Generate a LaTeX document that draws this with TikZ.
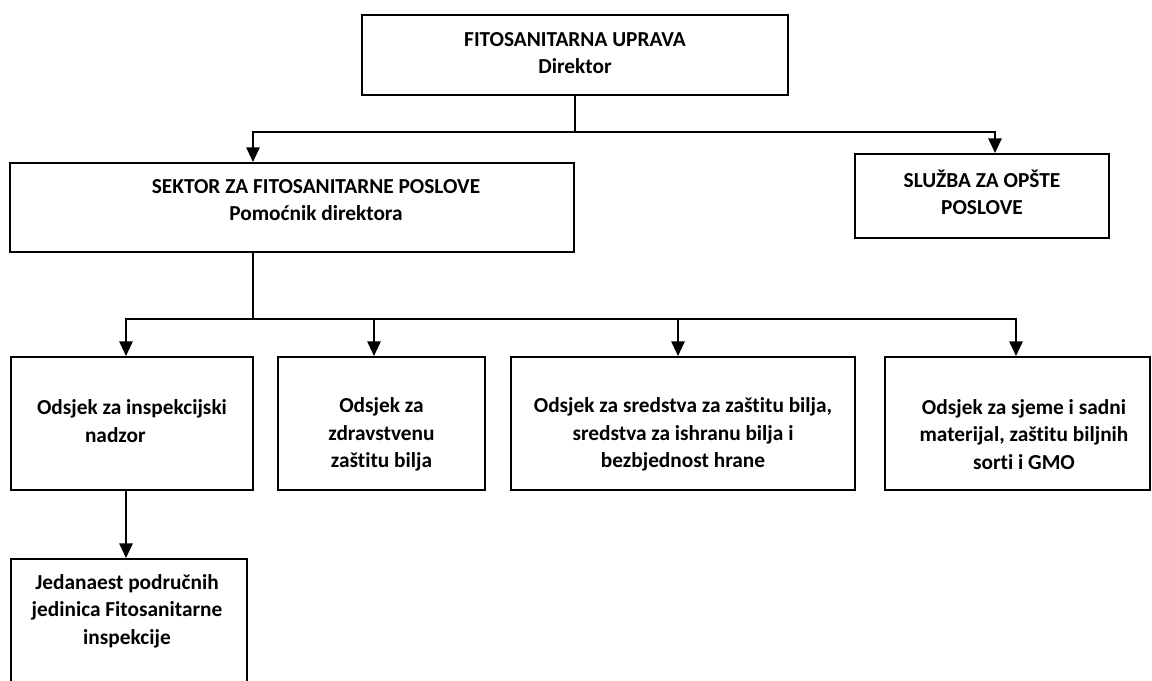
\documentclass[tikz,border=0pt]{standalone}
\usepackage{fontspec}
\setmainfont{Carlito}[Ligatures=NoCommon]
\usetikzlibrary{positioning,arrows.meta}

\begin{document}
\begin{tikzpicture}[x=0.75pt, y=-0.75pt, font=\bfseries\fontsize{16}{20.5}\selectfont, b/.style={draw, line width=1.5pt, inner sep=0pt}, t/.style={align=center, inner sep=0pt}, s/.style={line width=1.4pt}, a/.style={s, -{Triangle[length=11pt, width=10pt]}}]
		\useasboundingbox (0,0) rectangle (1152,681);
		\node[b, minimum width=319.5pt, minimum height=60pt] (uprava) at (575,55) {};
		\node[t] (uprava_label) at (575,53) {FITOSANITARNA UPRAVA\\Direktor};
		\node[b, minimum width=423pt, minimum height=66.75pt] (sektor) at (292,207.5) {};
		\node[t] (sektor_label) at (316,200) {SEKTOR ZA FITOSANITARNE POSLOVE\\Pomoćnik direktora};
		\node[b, minimum width=190.5pt, minimum height=63pt] (sluzba) at (982,196) {};
		\node[t] (sluzba_label) at (982,192.5) {SLUŽBA ZA OPŠTE\\POSLOVE};
		\node[b, minimum width=181.5pt, minimum height=99.75pt] (o1) at (132,423.5) {};
		\node[t] (o1_label) at (132,421) {Odsjek za inspekcijski\\nadzor\hspace*{25pt}};
		\node[b, minimum width=155.25pt, minimum height=99.75pt] (o2) at (381.5,423.5) {};
		\node[t] (o2_label) at (381.5,434.5) {Odsjek za\\zdravstvenu\\zaštitu bilja};
		\node[b, minimum width=258pt, minimum height=99.75pt] (o3) at (683,423.5) {};
		\node[t] (o3_label) at (683,434.5) {Odsjek za sredstva za zaštitu bilja,\\sredstva za ishranu bilja i\\bezbjednost hrane};
		\node[b, minimum width=198.75pt, minimum height=99.75pt] (o4) at (1017.5,423.5) {};
		\node[t] (o4_label) at (1024,434.5) {Odsjek za sjeme i sadni\\materijal, zaštitu biljnih\\sorti i GMO};
		\node[b, minimum width=177pt, minimum height=105pt] (o5) at (129,629) {};
		\node[t] (o5_label) at (127,611) {Jedanaest područnih\\jedinica Fitosanitarne\\inspekcije};

		\coordinate (j1) at (575,132);
		\coordinate (j2) at (253,319);
		\draw[s] (uprava) -- (j1);
		\draw[a] (j1) -| ([xshift=-29.25pt]sektor.north);
		\draw[a] (j1) -| ([xshift=9.75pt]sluzba.north);
		\draw[s] ([xshift=-29.25pt]sektor.south) -- (j2);
		\draw[a] (j2) -| ([xshift=-4.5pt]o1.north);
		\draw[a] (j2) -| ([xshift=-5.625pt]o2.north);
		\draw[a] (j2) -| ([xshift=-3.75pt]o3.north);
		\draw[a] (j2) -| ([xshift=-1.125pt]o4.north);
		\draw[a] ([xshift=-4.5pt]o1.south) -- ([xshift=-4.5pt]o1.south |- o5.north);
	\end{tikzpicture}
\end{document}
